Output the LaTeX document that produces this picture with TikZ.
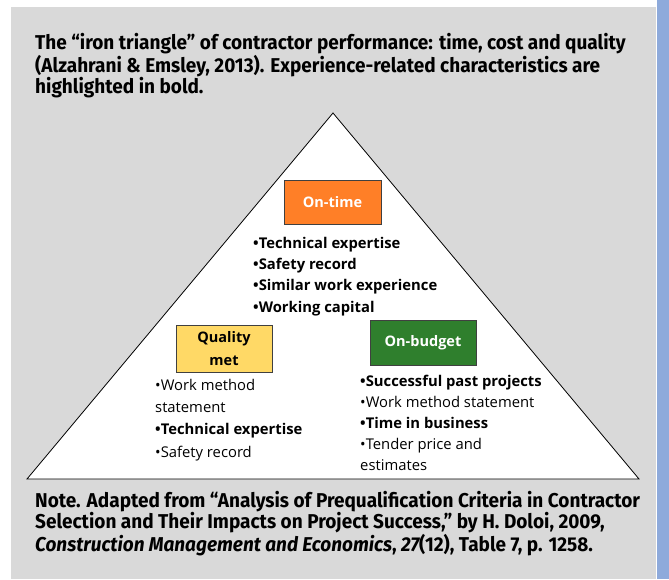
\documentclass[tikz,border=0pt]{standalone}
\usepackage{fontspec}
\newfontfamily\capfont[FakeStretch=0.95]{Fira Sans}
\newfontfamily\bodyfont{Open Sans}
\definecolor{panelgray}{HTML}{D9D9D9}
\definecolor{sidebar}{HTML}{8EAADB}
\definecolor{ontime}{HTML}{FF7F27}
\definecolor{quality}{HTML}{FFD966}
\definecolor{budget}{HTML}{2F7F2D}
\definecolor{boxline}{HTML}{404040}
% multi-line nodes below are placed by the baseline of their last line
\tikzset{
  caption/.style={anchor=base west, align=left, inner sep=0pt,
    font=\capfont\bfseries\fontsize{20}{21}\selectfont},
  goalbox/.style={draw=boxline, line width=0.8pt, minimum height=44pt,
    align=center, inner sep=0pt, font=\bodyfont\bfseries\fontsize{14.5}{23}\selectfont},
  itemlist/.style={anchor=base west, align=left, inner sep=0pt},
}
\begin{document}
\begin{tikzpicture}[x=1pt, y=-1pt]
  \useasboundingbox (0,0) rectangle (669,579);
  % page, panel and side bar
  \fill[white] (0,0) rectangle (669,579);
  \fill[panelgray] (11,7) rectangle (656,579);
  \fill[sidebar] (657,0) rectangle (669,579);

  % heading
  \node[caption] (title) at (35,93) {The “iron triangle” of contractor performance: time, cost and quality\\
    (Alzahrani \& Emsley, 2013). Experience-related characteristics are\\
    highlighted in bold.};

  % the triangle
  \coordinate (apex) at (333,113);
  \coordinate (bl) at (27,479);
  \coordinate (br) at (639,479);
  \draw[fill=white, line width=0.8pt] (apex) -- (bl) -- (br) -- cycle;

  % goal boxes
  \node[goalbox, fill=ontime, text=white, minimum width=97pt] (ontime) at (332.5,202) {On-time};
  \node[goalbox, fill=quality, text=black, minimum width=96pt, minimum height=47pt] (qual) at (224,348.5) {Quality\\met};
  \node[goalbox, fill=budget, text=white, minimum width=106pt, minimum height=45pt] (budget) at (423,342.5) {On-budget};

  % characteristics
  \node[itemlist, font=\bodyfont\fontsize{14.8}{21.3}\selectfont] (timelist) at (253,312) {\bfseries •Technical expertise\\
    \bfseries •Safety record\\
    \bfseries •Similar work experience\\
    \bfseries •Working capital};
  \node[itemlist, font=\bodyfont\fontsize{14.8}{22.3}\selectfont] (quallist) at (155,457) {•Work method\\
    statement\\
    \bfseries •Technical expertise\\
    •Safety record};
  \node[itemlist, font=\bodyfont\fontsize{14.8}{20.8}\selectfont] (budgetlist) at (360,470) {\bfseries •Successful past projects\\
    •Work method statement\\
    \bfseries •Time in business\\
    •Tender price and\\
    estimates};

  % source note
  \node[caption] (note) at (35,551) {Note. Adapted from “Analysis of Prequalification Criteria in Contractor\\
    Selection and Their Impacts on Project Success,” by H. Doloi, 2009,\\
    \itshape Construction Management and Economics\upshape, \itshape 27\upshape(12), Table 7, p. 1258.};
\end{tikzpicture}
\end{document}
